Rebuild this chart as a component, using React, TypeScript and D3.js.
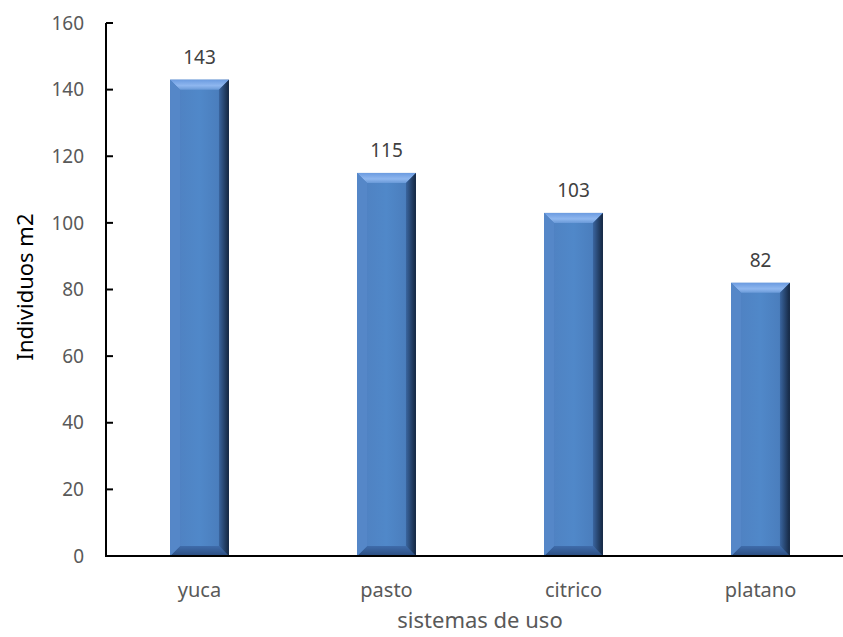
import React from 'react';
import { scaleBand, scaleLinear } from 'd3';

const categories = ['yuca', 'pasto', 'citrico', 'platano'];
const values = [143, 115, 103, 82];
const yTicks = [0, 20, 40, 60, 80, 100, 120, 140, 160];

const W = 843;
const H = 637;
const margin = { top: 23, left: 106, bottom: 81, right: -11 };
const font = '"Noto Sans", "Open Sans", sans-serif';

const Bar = ({ x, y, w, h }: { x: number; y: number; w: number; h: number }) => {
  const b = Math.min(10, h / 2);
  return (
    <g>
      <rect x={x} y={y} width={w} height={h} fill="url(#barFace)" />
      {/* top bevel */}
      <polygon points={`${x},${y} ${x + w},${y} ${x + w - b},${y + b} ${x + b},${y + b}`} fill="url(#bevelTop)" />
      {/* bottom bevel */}
      <polygon points={`${x},${y + h} ${x + w},${y + h} ${x + w - b},${y + h - b} ${x + b},${y + h - b}`} fill="url(#bevelBottom)" />
      {/* left bevel */}
      <polygon points={`${x},${y} ${x + b},${y + b} ${x + b},${y + h - b} ${x},${y + h}`} fill="#5587c8" />
      {/* right bevel */}
      <polygon points={`${x + w},${y} ${x + w - b},${y + b} ${x + w - b},${y + h - b} ${x + w},${y + h}`} fill="url(#bevelRight)" />
    </g>
  );
};

export default function App() {
  const x = scaleBand<string>()
    .domain(categories)
    .range([margin.left, W - margin.right])
    .paddingInner(0.685)
    .paddingOuter(0.3425);
  const y = scaleLinear().domain([0, 160]).range([H - margin.bottom, margin.top]);
  const y0 = y(0);

  return (
    <svg width={W} height={H} style={{ position: 'absolute', left: 0, top: 0 }}>
      <defs>
        <linearGradient id="barFace" x1="0" x2="1" y1="0" y2="0">
          <stop offset="0" stopColor="#4f80c0" />
          <stop offset="0.5" stopColor="#5088c9" />
          <stop offset="0.85" stopColor="#4a7dbc" />
          <stop offset="1" stopColor="#3a64a0" />
        </linearGradient>
        <linearGradient id="bevelTop" x1="0" x2="0" y1="0" y2="1">
          <stop offset="0" stopColor="#6b9be0" />
          <stop offset="0.6" stopColor="#8fb7ef" />
          <stop offset="1" stopColor="#6a9ad8" />
        </linearGradient>
        <linearGradient id="bevelBottom" x1="0" x2="0" y1="0" y2="1">
          <stop offset="0" stopColor="#3f6cab" />
          <stop offset="1" stopColor="#2b4d80" />
        </linearGradient>
        <linearGradient id="bevelRight" x1="0" x2="1" y1="0" y2="0">
          <stop offset="0" stopColor="#3a659f" />
          <stop offset="1" stopColor="#142640" />
        </linearGradient>
      </defs>

      {categories.map((c, i) => (
        <Bar key={c} x={x(c)!} y={y(values[i])} w={x.bandwidth()} h={y0 - y(values[i])} />
      ))}

      {/* value labels */}
      {categories.map((c, i) => (
        <text
          key={c}
          x={x(c)! + x.bandwidth() / 2}
          y={y(values[i]) - 16}
          textAnchor="middle"
          fontFamily={font}
          fontSize={19}
          fill="#404040"
        >
          {values[i]}
        </text>
      ))}

      {/* y axis */}
      <line x1={margin.left} x2={margin.left} y1={margin.top} y2={y0} stroke="#000" strokeWidth={2} />
      {yTicks.map((t) => (
        <g key={t}>
          <line x1={margin.left} x2={margin.left + 7} y1={y(t)} y2={y(t)} stroke="#000" strokeWidth={2} />
          <text
            x={margin.left - 22}
            y={y(t)}
            dy="0.35em"
            textAnchor="end"
            fontFamily={font}
            fontSize={19}
            fill="#595959"
          >
            {t}
          </text>
        </g>
      ))}

      {/* x axis */}
      <line x1={margin.left - 1} x2={W} y1={y0} y2={y0} stroke="#000" strokeWidth={2} />
      {categories.map((c) => (
        <text
          key={c}
          x={x(c)! + x.bandwidth() / 2}
          y={y0 + 41}
          textAnchor="middle"
          fontFamily={font}
          fontSize={20}
          fill="#595959"
        >
          {c}
        </text>
      ))}

      <text
        x={480}
        y={628}
        textAnchor="middle"
        fontFamily={font}
        fontSize={22}
        fill="#595959"
      >
        sistemas de uso
      </text>
      <text
        transform="translate(33,287) rotate(-90)"
        textAnchor="middle"
        fontFamily={font}
        fontSize={22}
        fill="#000"
      >
        Individuos m2
      </text>
    </svg>
  );
}
